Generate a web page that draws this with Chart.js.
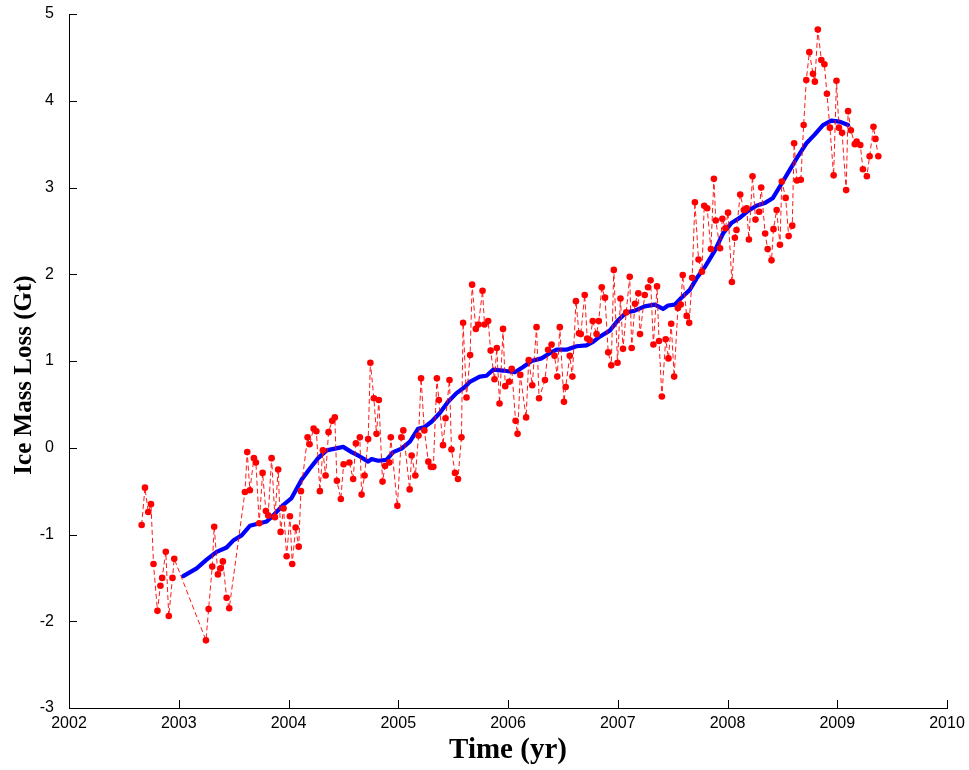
<!DOCTYPE html>
<html>
<head>
<meta charset="utf-8">
<script src="https://cdn.jsdelivr.net/npm/chart.js@4.4.1/dist/chart.umd.min.js"></script>
<style>
  html, body { margin: 0; padding: 0; background: #fff; }
  canvas { display: block; }
</style>
</head>
<body>
<canvas id="iceChart" width="969" height="770"></canvas>
<script>
/* ---------- data ---------- */
// 10-day samples: time (yr) and ice mass loss (Gt), grouped by year
const sampleYears = [
  2002.662, 2002.692, 2002.722, 2002.747, 2002.770, 2002.806, 2002.833, 2002.849, 2002.882, 2002.909, 2002.943, 2002.959,
  2003.248, 2003.272, 2003.305, 2003.323, 2003.357, 2003.382, 2003.402, 2003.436, 2003.460, 2003.603, 2003.624, 2003.648,
  2003.685, 2003.703, 2003.733, 2003.764, 2003.794, 2003.815, 2003.846, 2003.876, 2003.906, 2003.928, 2003.955, 2003.983,
  2004.013, 2004.034, 2004.065, 2004.093, 2004.113, 2004.174, 2004.192, 2004.229, 2004.254, 2004.286, 2004.313, 2004.338,
  2004.365, 2004.398, 2004.422, 2004.441, 2004.477, 2004.502, 2004.555, 2004.589, 2004.614, 2004.650, 2004.666, 2004.693,
  2004.726, 2004.746, 2004.778, 2004.802, 2004.823, 2004.857, 2004.880, 2004.919, 2004.932, 2004.992,
  2005.028, 2005.046, 2005.104, 2005.122, 2005.156, 2005.185, 2005.208, 2005.238, 2005.274, 2005.297, 2005.320, 2005.352,
  2005.370, 2005.408, 2005.431, 2005.467, 2005.485, 2005.517, 2005.544, 2005.576, 2005.591, 2005.622, 2005.655, 2005.673,
  2005.707, 2005.731, 2005.768, 2005.786, 2005.819, 2005.842, 2005.877, 2005.898, 2005.923, 2005.955, 2005.975,
  2006.010, 2006.034, 2006.069, 2006.087, 2006.112, 2006.165, 2006.189, 2006.221, 2006.260, 2006.283, 2006.337, 2006.365,
  2006.397, 2006.424, 2006.449, 2006.472, 2006.510, 2006.526, 2006.563, 2006.587, 2006.619, 2006.647, 2006.663, 2006.699,
  2006.722, 2006.745, 2006.772, 2006.807, 2006.827, 2006.854, 2006.884, 2006.913, 2006.941, 2006.964, 2006.998,
  2007.025, 2007.048, 2007.077, 2007.109, 2007.127, 2007.157, 2007.187, 2007.203, 2007.246, 2007.276, 2007.299, 2007.325,
  2007.358, 2007.376, 2007.402, 2007.437, 2007.462, 2007.487, 2007.514, 2007.548, 2007.574, 2007.592, 2007.628, 2007.651,
  2007.678, 2007.703, 2007.736, 2007.767, 2007.788, 2007.815, 2007.849, 2007.876, 2007.893, 2007.932, 2007.953, 2007.981,
  2008.005, 2008.040, 2008.067, 2008.082, 2008.116, 2008.149, 2008.175, 2008.195, 2008.228, 2008.255, 2008.289, 2008.307,
  2008.343, 2008.366, 2008.401, 2008.419, 2008.448, 2008.478, 2008.495, 2008.530, 2008.557, 2008.590, 2008.607, 2008.633,
  2008.668, 2008.694, 2008.718, 2008.746, 2008.779, 2008.796, 2008.823, 2008.855, 2008.883, 2008.906, 2008.933, 2008.967, 2008.993,
  2009.015, 2009.044, 2009.081, 2009.099, 2009.124, 2009.160, 2009.177, 2009.210, 2009.234, 2009.270, 2009.295, 2009.330,
  2009.348, 2009.374
];
const sampleLoss = [
  -0.89, -0.46, -0.74, -0.65, -1.34, -1.88, -1.59, -1.50, -1.20, -1.94, -1.50, -1.28,
  -2.22, -1.86, -1.37, -0.91, -1.46, -1.39, -1.31, -1.73, -1.85, -0.51, -0.05, -0.49,
  -0.12, -0.17, -0.87, -0.29, -0.73, -0.78, -0.12, -0.80, -0.25, -0.97, -0.70, -1.25,
  -0.79, -1.34, -0.92, -1.14, -0.50, 0.12, 0.04, 0.22, 0.19, -0.50, -0.03, -0.32,
  0.18, 0.31, 0.35, -0.38, -0.59, -0.19, -0.17, -0.36, 0.05, 0.12, -0.54, -0.32,
  0.10, 0.98, 0.57, 0.16, 0.55, -0.39, -0.21, -0.17, 0.12, -0.67,
  0.12, 0.20, -0.48, -0.09, -0.32, 0.14, 0.80, 0.20, -0.16, -0.22, -0.22, 0.80,
  0.55, 0.03, 0.34, 0.78, -0.02, -0.29, -0.36, 0.12, 1.44, 0.58, 1.07, 1.88,
  1.37, 1.42, 1.81, 1.42, 1.46, 1.12, 0.79, 1.15, 0.51, 1.37, 0.71,
  0.76, 0.91, 0.31, 0.16, 0.84, 0.35, 1.01, 0.72, 1.39, 0.57, 0.78, 1.13,
  1.19, 1.06, 0.82, 1.39, 0.53, 0.70, 1.06, 0.82, 1.69, 1.32, 1.31, 1.76,
  1.26, 1.24, 1.46, 1.31, 1.46, 1.85, 1.73, 1.10, 0.95, 2.05, 0.98,
  1.72, 1.14, 1.56, 1.97, 1.15, 1.66, 1.78, 1.31, 1.76, 1.85, 1.93, 1.19,
  1.86, 1.23, 0.59, 1.25, 1.03, 1.43, 0.82, 1.61, 1.65, 1.99, 1.52, 1.44,
  1.96, 2.83, 2.17, 2.03, 2.79, 2.76, 2.29, 3.10, 2.62, 2.30, 2.64, 2.53,
  2.71, 1.91, 2.42, 2.51, 2.92, 2.74, 2.76, 2.40, 3.13, 2.63, 2.72, 3.00,
  2.47, 2.29, 2.16, 2.52, 2.74, 2.34, 3.07, 2.88, 2.44, 2.56, 3.51, 3.08,
  3.09, 3.72, 4.24, 4.56, 4.31, 4.22, 4.82, 4.47, 4.42, 4.08, 3.69, 3.14, 4.23,
  3.69, 3.63, 2.97, 3.88, 3.66, 3.50, 3.53, 3.49, 3.21, 3.13, 3.36, 3.70,
  3.56, 3.36
];

// smoothed trend (blue line)
const trendYears = [
  2003.041, 2003.163, 2003.254, 2003.345, 2003.436, 2003.496, 2003.573, 2003.648, 2003.739, 2003.801, 2003.861, 2003.952,
  2004.028, 2004.119, 2004.195, 2004.270, 2004.347, 2004.423, 2004.498, 2004.575, 2004.650, 2004.726, 2004.757, 2004.817,
  2004.893, 2004.954, 2005.030, 2005.106, 2005.181, 2005.242, 2005.303, 2005.379, 2005.454, 2005.531, 2005.607, 2005.652,
  2005.743, 2005.804, 2005.864, 2005.955, 2006.062, 2006.138, 2006.214, 2006.305, 2006.381, 2006.442, 2006.533, 2006.624,
  2006.715, 2006.775, 2006.836, 2006.927, 2007.003, 2007.079, 2007.155, 2007.246, 2007.337, 2007.413, 2007.458, 2007.519,
  2007.580, 2007.656, 2007.717, 2007.792, 2007.883, 2007.959, 2008.035, 2008.111, 2008.187, 2008.263, 2008.339, 2008.414,
  2008.491, 2008.566, 2008.642, 2008.719, 2008.794, 2008.870, 2008.946, 2009.022, 2009.098
];
const trendLoss = [
  -1.48, -1.39, -1.29, -1.20, -1.15, -1.07, -1.01, -0.90, -0.87, -0.85, -0.78, -0.66,
  -0.58, -0.37, -0.24, -0.12, -0.03, -0.01, 0.01, -0.05, -0.10, -0.16, -0.13, -0.15,
  -0.14, -0.05, -0.01, 0.07, 0.22, 0.24, 0.30, 0.40, 0.53, 0.63, 0.70, 0.76,
  0.82, 0.83, 0.90, 0.89, 0.87, 0.93, 1.00, 1.03, 1.09, 1.13, 1.13, 1.17,
  1.18, 1.22, 1.28, 1.35, 1.47, 1.56, 1.58, 1.63, 1.65, 1.60, 1.64, 1.65,
  1.73, 1.82, 1.95, 2.08, 2.27, 2.47, 2.59, 2.65, 2.73, 2.79, 2.82, 2.88,
  3.04, 3.20, 3.36, 3.51, 3.61, 3.72, 3.77, 3.76, 3.72
];

// axis ticks
const yearTicks = [2002, 2003, 2004, 2005, 2006, 2007, 2008, 2009, 2010];
const lossTicks = [-3, -2, -1, 0, 1, 2, 3, 4, 5];

const tickFont = { family: '"Liberation Sans", Arial, sans-serif', size: 16 };
const titleFamily = '"Liberation Serif", "Times New Roman", serif';

/* ---------- inward tick marks + y title (MATLAB style) ---------- */
const matlabAxes = {
  id: 'matlabAxes',
  afterDraw(chart) {
    const { ctx, chartArea, scales } = chart;
    ctx.save();
    ctx.strokeStyle = '#000';
    ctx.lineWidth = 1;
    ctx.beginPath();
    yearTicks.forEach(v => {
      const px = Math.round(scales.x.getPixelForValue(v)) + 0.5;
      ctx.moveTo(px, chartArea.bottom);
      ctx.lineTo(px, chartArea.bottom - 8);
    });
    lossTicks.forEach(v => {
      const py = Math.round(scales.y.getPixelForValue(v)) + 0.5;
      ctx.moveTo(chartArea.left, py);
      ctx.lineTo(chartArea.left + 8, py);
    });
    ctx.stroke();

    // y title, sitting a bit below the axis centre like the original
    ctx.translate(25, chartArea.top + (chartArea.bottom - chartArea.top) / 2 + 14);
    ctx.rotate(-Math.PI / 2);
    ctx.fillStyle = '#000';
    ctx.font = 'bold 25px ' + titleFamily;
    ctx.textAlign = 'center';
    ctx.textBaseline = 'middle';
    ctx.fillText('Ice Mass Loss (Gt)', 0, 0);
    ctx.restore();
  }
};

new Chart(document.getElementById('iceChart'), {
  type: 'line',
  data: {
    datasets: [
      {
        // red dashed samples, drawn on top
        data: sampleYears.map((x, i) => ({ x, y: sampleLoss[i] })),
        borderColor: 'rgba(255, 0, 0, 0.9)',
        borderWidth: 1,
        borderDash: [5, 3],
        pointRadius: 3.3,
        pointBackgroundColor: '#ff0000',
        pointBorderWidth: 0,
        tension: 0
      },
      {
        // blue smoothed trend
        data: trendYears.map((x, i) => ({ x, y: trendLoss[i] })),
        borderColor: '#0000ff',
        borderWidth: 4.2,
        borderCapStyle: 'round',
        borderJoinStyle: 'round',
        pointRadius: 0,
        tension: 0
      }
    ]
  },
  options: {
    responsive: false,
    animation: false,
    layout: { padding: { top: 14, right: 22, left: 0, bottom: 0 } },
    plugins: {
      legend: { display: false },
      tooltip: { enabled: false }
    },
    scales: {
      x: {
        type: 'linear',
        min: yearTicks[0],
        max: yearTicks[yearTicks.length - 1],
        afterFit(scale) {
          scale.height = 62;
          scale.paddingLeft = 0;
          scale.paddingRight = 0;
        },
        afterBuildTicks(scale) { scale.ticks = yearTicks.map(v => ({ value: v })); },
        grid: { display: false, drawTicks: false },
        border: { display: true, color: '#000', width: 1 },
        ticks: {
          color: '#000',
          font: tickFont,
          padding: 6,
          maxRotation: 0,
          callback: v => String(v)
        },
        title: {
          display: true,
          text: 'Time (yr)',
          color: '#000',
          font: { family: titleFamily, size: 29, weight: 'bold' },
          padding: { top: 0, bottom: 2 }
        }
      },
      y: {
        type: 'linear',
        min: lossTicks[0],
        max: lossTicks[lossTicks.length - 1],
        afterFit(scale) {
          scale.width = 69;
          scale.paddingTop = 0;
          scale.paddingBottom = 0;
        },
        afterBuildTicks(scale) { scale.ticks = lossTicks.map(v => ({ value: v })); },
        grid: { display: false, drawTicks: false },
        border: { display: true, color: '#000', width: 1 },
        ticks: {
          color: '#000',
          font: tickFont,
          padding: 15,
          callback: v => String(v)
        },
        title: { display: false }
      }
    }
  },
  plugins: [matlabAxes]
});
</script>
</body>
</html>
